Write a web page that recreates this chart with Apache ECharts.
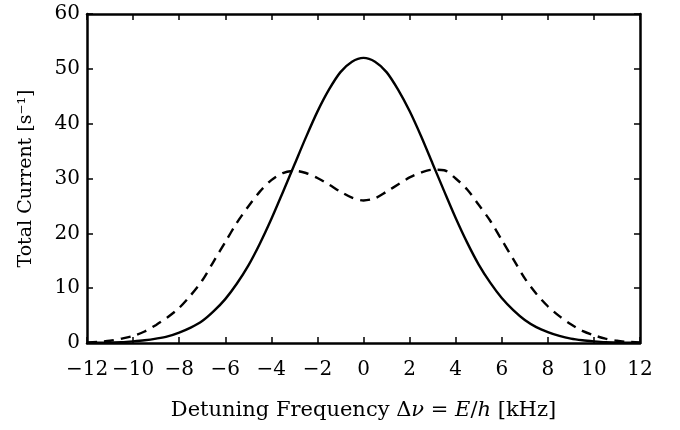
<!DOCTYPE html>
<html>
<head>
<meta charset="utf-8">
<script src="https://cdn.jsdelivr.net/npm/echarts@6/dist/echarts.min.js"></script>
<style>
  html, body { margin: 0; padding: 0; background: #fff; }
  #chart { width: 680px; height: 430px; }
</style>
</head>
<body>
<div id="chart"></div>
<script>
// detuning in kHz
const detuning = [
  -12, -11.5, -11, -10.5, -10, -9.5, -9, -8.5, -8, -7.5, -7, -6.5, -6, -5.5, -5, -4.5, -4, -3.5, -3, -2.5, -2, -1.5, -1, -0.5,
  0, 0.5, 1, 1.5, 2, 2.5, 3, 3.5, 4, 4.5, 5, 5.5, 6, 6.5, 7, 7.5, 8, 8.5, 9, 9.5, 10, 10.5, 11, 11.5, 12
];
// solid curve
const solidCurrent = [
  0.02, 0.05, 0.1, 0.15, 0.3, 0.5, 0.8, 1.2, 1.9, 2.8, 4.0, 5.8, 8.0, 10.8, 14.1, 18.1, 22.6, 27.5, 32.5, 37.5, 42.2, 46.2, 49.4, 51.3,
  52.0, 51.3, 49.4, 46.2, 42.3, 37.7, 32.7, 27.7, 22.8, 18.3, 14.3, 11.0, 8.2, 6.0, 4.2, 2.9, 2.0, 1.3, 0.8, 0.5, 0.3, 0.15, 0.1, 0.05, 0.02
];
// dashed curve
const dashedCurrent = [
  0.1, 0.2, 0.4, 0.8, 1.3, 2.1, 3.3, 4.7, 6.4, 8.7, 11.4, 14.9, 18.4, 21.9, 24.9, 27.6, 29.7, 31.0, 31.4, 31.0, 30.1, 28.9, 27.6, 26.5,
  26.0, 26.4, 27.6, 28.9, 30.2, 31.1, 31.6, 31.5, 30.0, 28.0, 25.2, 22.3, 18.8, 15.3, 11.8, 9.0, 6.7, 4.9, 3.4, 2.2, 1.4, 0.8, 0.4, 0.2, 0.1
];

const xTicks = [-12, 12, 2];
const yTicks = [0, 60, 10];

const chart = echarts.init(document.getElementById('chart'), null, { renderer: 'canvas' });

const font = 'DejaVu Serif';
const axisLine = { show: true, onZero: false, lineStyle: { color: '#000', width: 2.5 } };
const tick = { show: true, inside: true, length: 6, lineStyle: { color: '#000', width: 1.5 } };
const minus = v => (v < 0 ? '\u2212' + Math.abs(v) : String(v));

const option = {
  animation: false,
  backgroundColor: '#fff',
  grid: { left: 87, right: 40, top: 14, bottom: 87 },
  xAxis: [
    {
      type: 'value', min: xTicks[0], max: xTicks[1], interval: xTicks[2],
      axisLine, axisTick: tick, splitLine: { show: false },
      axisLabel: { color: '#000', fontFamily: font, fontSize: 20, margin: 17, formatter: minus },
      name: '{t|Detuning Frequency }{t|\u0394}{i|\u03bd}{t| = }{i|E}{t|/}{i|h}{t| [kHz]}',
      nameLocation: 'middle', nameGap: 57,
      nameTextStyle: {
        rich: {
          t: { fontFamily: font, fontSize: 21, color: '#000' },
          i: { fontFamily: font, fontSize: 21, fontStyle: 'italic', color: '#000' }
        }
      }
    },
    {
      type: 'value', position: 'top', min: xTicks[0], max: xTicks[1], interval: xTicks[2],
      axisLine, axisTick: tick, axisLabel: { show: false }, splitLine: { show: false }
    }
  ],
  yAxis: [
    {
      type: 'value', min: yTicks[0], max: yTicks[1], interval: yTicks[2],
      axisLine, axisTick: tick, splitLine: { show: false },
      axisLabel: { color: '#000', fontFamily: font, fontSize: 20, margin: 7 },
      name: 'Total Current [s\u207b\u00b9]',
      nameLocation: 'middle', nameGap: 51,
      nameTextStyle: { fontFamily: font, fontSize: 19, color: '#000' }
    },
    {
      type: 'value', position: 'right', min: yTicks[0], max: yTicks[1], interval: yTicks[2],
      axisLine, axisTick: tick, axisLabel: { show: false }, splitLine: { show: false }
    }
  ],
  series: [
    {
      type: 'line', smooth: 0.3, showSymbol: false, symbol: 'none',
      data: detuning.map((x, i) => [x, solidCurrent[i]]),
      lineStyle: { color: '#000', width: 2.4 }
    },
    {
      type: 'line', smooth: 0.3, showSymbol: false, symbol: 'none',
      data: detuning.map((x, i) => [x, dashedCurrent[i]]),
      lineStyle: { color: '#000', width: 2.4, type: [10, 7] }
    }
  ]
};

chart.setOption(option);
</script>
</body>
</html>
